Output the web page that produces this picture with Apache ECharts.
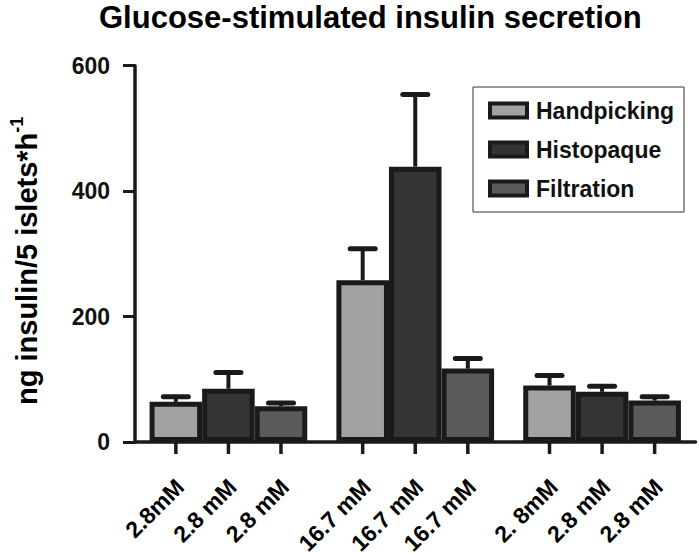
<!DOCTYPE html>
<html>
<head>
<meta charset="utf-8">
<script src="https://cdn.jsdelivr.net/npm/echarts@6/dist/echarts.min.js"></script>
<style>
html,body{margin:0;padding:0;background:#fff;}
#chart{width:699px;height:556px;}
</style>
</head>
<body>
<div id="chart"></div>
<script>
// ---- data ----
const groups = ['2.8 mM (1)', '16.7 mM', '2.8 mM (2)'];
const seriesNames = ['Handpicking', 'Histopaque', 'Filtration'];
const handpicking = [64, 258, 90];
const histopaque = [85, 439, 80];
const filtration = [57, 117, 66];
const handpickingErr = [8, 50, 16];
const histopaqueErr = [26, 115, 9];
const filtrationErr = [5, 16, 6];
const xLabels = ['2.8mM', '2.8 mM', '2.8 mM', '16.7 mM', '16.7 mM', '16.7 mM', '2. 8mM', '2.8 mM', '2.8 mM'];
const yMin = 0, yMax = 600, yStep = 200;
const titleText = 'Glucose-stimulated insulin secretion';

// ---- styles ----
const FONT = "Liberation Sans, Arial, Helvetica, sans-serif";
const INK = '#1a1a1a';
const fills = ['#a2a2a2', '#343434', '#5a5a5a'];
const CAT_GAP = 0.156;

const values = [handpicking, histopaque, filtration];
const errs = [handpickingErr, histopaqueErr, filtrationErr];

const errData = [];
for (let g = 0; g < groups.length; g++) {
  for (let s = 0; s < seriesNames.length; s++) {
    errData.push([g, s, values[s][g], errs[s][g], g * seriesNames.length + s]);
  }
}

const chart = echarts.init(document.getElementById('chart'), null, {renderer: 'svg'});

const barSeries = seriesNames.map((name, s) => ({
  name: name,
  type: 'bar',
  data: values[s],
  barGap: '0%',
  barCategoryGap: (CAT_GAP * 100) + '%',
  itemStyle: {color: fills[s], borderColor: INK, borderWidth: 5},
  z: 2
}));

chart.setOption({
  animation: false,
  backgroundColor: '#fff',
  title: {
    text: titleText,
    left: 99,
    top: 2,
    padding: 0,
    textStyle: {fontFamily: FONT, fontWeight: 'bold', fontSize: 31, color: '#000'}
  },
  legend: {
    data: seriesNames,
    orient: 'vertical',
    left: 473,
    top: 87,
    padding: [12, 10, 12, 15],
    itemWidth: 37,
    itemHeight: 14,
    itemGap: 16,
    icon: 'rect',
    borderColor: '#333',
    borderWidth: 1,
    backgroundColor: '#fff',
    itemStyle: {borderColor: INK, borderWidth: 4},
    textStyle: {fontFamily: FONT, fontWeight: 'bold', fontSize: 23, color: '#111', padding: [0, 0, 0, 4]}
  },
  grid: {left: 131, right: 3.5, top: 65.7, bottom: 114, containLabel: false},
  xAxis: {
    type: 'category',
    data: groups,
    axisLine: {lineStyle: {color: INK, width: 3.5}},
    axisTick: {show: false},
    axisLabel: {show: false},
    splitLine: {show: false}
  },
  yAxis: {
    type: 'value',
    min: yMin,
    max: yMax,
    interval: yStep,
    name: '{a|ng insulin/5 islets*h}{b|-1}',
    nameLocation: 'middle',
    nameRotate: 90,
    nameGap: 94,
    nameTextStyle: {
      padding: [0, 14, 0, 0],
      rich: {
        a: {fontFamily: FONT, fontWeight: 'bold', fontSize: 29, color: '#000', lineHeight: 33, verticalAlign: 'bottom'},
        b: {fontFamily: FONT, fontWeight: 'bold', fontSize: 18, color: '#000', lineHeight: 33, verticalAlign: 'top'}
      }
    },
    axisLine: {show: true, lineStyle: {color: INK, width: 3.5}},
    axisTick: {show: true, length: 12, lineStyle: {color: INK, width: 3}},
    axisLabel: {fontFamily: FONT, fontWeight: 'bold', fontSize: 23, color: '#111', margin: 25},
    splitLine: {show: false}
  },
  series: barSeries.concat([{
    type: 'custom',
    name: 'errors',
    data: errData,
    encode: {x: 0, y: 2},
    z: 3,
    clip: false,
    renderItem: function (params, api) {
      const g = api.value(0), s = api.value(1), v = api.value(2), e = api.value(3), li = api.value(4);
      const band = api.size([1, 0])[0];
      const bw = band * (1 - CAT_GAP) / seriesNames.length;
      const base = api.coord([g, v]);
      const top = api.coord([g, v + e]);
      const zero = api.coord([g, 0]);
      const x = base[0] + (s - (seriesNames.length - 1) / 2) * bw;
      const capHalf = 12.5;
      return {
        type: 'group',
        children: [
          {type: 'line', shape: {x1: x, y1: base[1], x2: x, y2: top[1]}, style: {stroke: INK, lineWidth: 4}},
          {type: 'line', shape: {x1: x - capHalf, y1: top[1], x2: x + capHalf, y2: top[1]}, style: {stroke: INK, lineWidth: 5, lineCap: 'round'}},
          {type: 'line', shape: {x1: x, y1: zero[1], x2: x, y2: zero[1] + 12}, style: {stroke: INK, lineWidth: 3.5}},
          {type: 'text', x: x + 4, y: zero[1] + 41, rotation: Math.PI / 4,
           style: {text: xLabels[li], align: 'right', verticalAlign: 'middle', fill: '#000',
                   fontFamily: FONT, fontWeight: 'bold', fontSize: 23}}
        ]
      };
    }
  }])
});
</script>
</body>
</html>
